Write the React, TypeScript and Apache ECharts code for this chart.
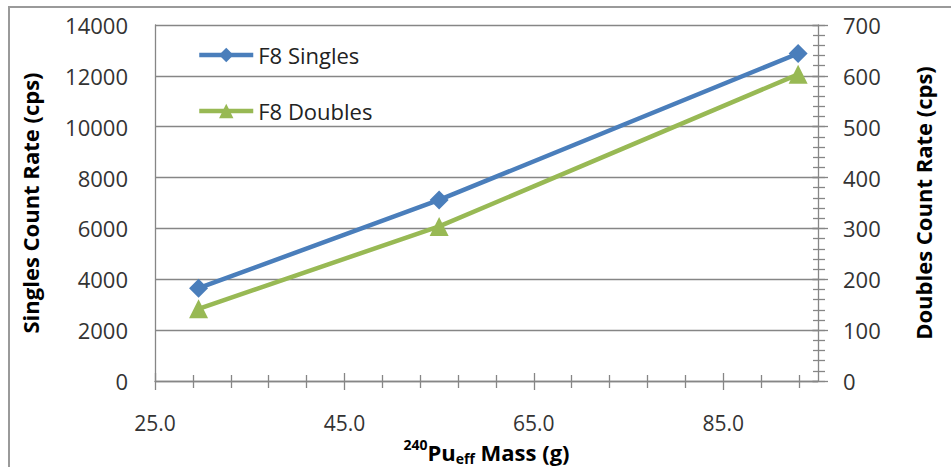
import React, { useEffect, useRef } from "react";
import * as echarts from "echarts";

const massValues = [29.6, 55.0, 92.9];
const singlesValues = [3650, 7120, 12880];
const doublesValues = [142, 304, 603];
const seriesNames = ["F8 Singles", "F8 Doubles"];
const xMajorTicks = [25, 45, 65, 85];
const xMinorTicks = [29, 33, 37, 41, 49, 53, 57, 61, 69, 73, 77, 81, 89, 93];

const FONT = "Open Sans";

export default function App() {
  const ref = useRef<HTMLDivElement>(null);
  useEffect(() => {
    document.body.style.margin = "0";
    const chart = echarts.init(ref.current!, null, { renderer: "svg" });
    const gray = "#868686";
    const xBase = { type: "value", min: 25, max: 95, gridIndex: 0, position: "bottom" };
    const option: any = {
      animation: false,
      backgroundColor: "#ffffff",
      grid: { left: 155, right: 133, top: 25, bottom: 86, containLabel: false, outerBoundsMode: "none" },
      legend: {
        orient: "vertical",
        left: 192,
        top: 39,
        itemWidth: 54,
        itemHeight: 18,
        itemGap: 34,
        lineStyle: { width: 4.5 },
        textStyle: { fontFamily: FONT, fontSize: 22, color: "#222" },
        data: seriesNames,
      },
      graphic: [
        {
          type: "polyline",
          shape: { points: [[9, 467], [9, 7], [951, 7]] },
          style: { stroke: "#9a9a9a", lineWidth: 2, fill: "none" },
          silent: true,
        },
      ],
      xAxis: [
        {
          ...xBase,
          axisLine: { show: true, onZero: false, lineStyle: { color: gray, width: 1.3 } },
          axisTick: { show: false },
          splitLine: { show: false },
          axisLabel: {
            customValues: xMajorTicks,
            formatter: (v: number) => v.toFixed(1),
            fontFamily: FONT,
            fontSize: 21,
            color: "#333",
            margin: 31,
          },
          name: "{sup|240}{b|Pu}{sub|eff}{b| Mass (g)}",
          nameLocation: "middle",
          nameGap: 56,
          nameTextStyle: {
            rich: {
              sup: { fontFamily: FONT, fontSize: 14, fontWeight: "bold", color: "#000", verticalAlign: "top" },
              b: { fontFamily: FONT, fontSize: 22, fontWeight: "bold", color: "#000", lineHeight: 28 },
              sub: { fontFamily: FONT, fontSize: 14, fontWeight: "bold", color: "#000", verticalAlign: "bottom", padding: [10, 0, 0, 0] },
            },
          },
        },
        {
          ...xBase,
          offset: -8,
          axisLine: { show: false, onZero: false },
          axisLabel: { show: false },
          splitLine: { show: false },
          axisTick: { show: true, customValues: xMajorTicks, length: 17, lineStyle: { color: gray, width: 1.3 } },
        },
        {
          ...xBase,
          offset: -6,
          axisLine: { show: false, onZero: false },
          axisLabel: { show: false },
          splitLine: { show: false },
          axisTick: { show: true, customValues: xMinorTicks, length: 13, lineStyle: { color: gray, width: 1.3 } },
        },
      ],
      yAxis: [
        {
          type: "value",
          min: 0,
          max: 14000,
          interval: 2000,
          position: "left",
          name: "Singles Count Rate (cps)",
          nameLocation: "middle",
          nameGap: 114,
          nameTextStyle: { fontFamily: FONT, fontSize: 22, fontWeight: "bold", color: "#000" },
          axisLine: { show: true, onZero: false, lineStyle: { color: gray, width: 1.3 } },
          axisTick: { show: false },
          splitLine: { show: true, lineStyle: { color: gray, width: 1.3 } },
          axisLabel: { fontFamily: FONT, fontSize: 22, color: "#333", margin: 27, formatter: (v: number) => String(v) },
        },
        {
          type: "value",
          min: 0,
          max: 700,
          interval: 100,
          position: "right",
          name: "Doubles Count Rate (cps)",
          nameLocation: "middle",
          nameGap: 94,
          nameRotate: 90,
          nameTextStyle: { fontFamily: FONT, fontSize: 22, fontWeight: "bold", color: "#000" },
          axisLine: { show: true, onZero: false, lineStyle: { color: gray, width: 1.3 } },
          axisTick: { show: false },
          splitLine: { show: false },
          axisLabel: { fontFamily: FONT, fontSize: 22, color: "#333", margin: 25, formatter: (v: number) => String(v) },
        },
        {
          type: "value",
          min: 0,
          max: 700,
          interval: 100,
          position: "right",
          offset: -6,
          axisLine: { show: false, onZero: false },
          axisLabel: { show: false },
          splitLine: { show: false },
          axisTick: { show: true, length: 16, lineStyle: { color: gray, width: 1.3 } },
        },
        {
          type: "value",
          min: 0,
          max: 700,
          interval: 20,
          position: "right",
          offset: -5,
          axisLine: { show: false, onZero: false },
          axisLabel: { show: false },
          splitLine: { show: false },
          axisTick: { show: true, length: 12, lineStyle: { color: gray, width: 1.3 } },
        },
      ],
      series: [
        {
          name: seriesNames[0],
          type: "line",
          yAxisIndex: 0,
          data: massValues.map((m, i) => [m, singlesValues[i]]),
          symbol: "diamond",
          symbolSize: 19,
          lineStyle: { color: "#4A7EBB", width: 4.5 },
          itemStyle: { color: "#4A7EBB" },
          z: 3,
        },
        {
          name: seriesNames[1],
          type: "line",
          yAxisIndex: 1,
          data: massValues.map((m, i) => [m, doublesValues[i]]),
          symbol: "triangle",
          symbolSize: 19,
          lineStyle: { color: "#98B954", width: 4.5 },
          itemStyle: { color: "#98B954" },
          z: 2,
        },
      ],
    };
    chart.setOption(option);
    return () => chart.dispose();
  }, []);
  return <div ref={ref} style={{ width: 951, height: 467 }} />;
}
